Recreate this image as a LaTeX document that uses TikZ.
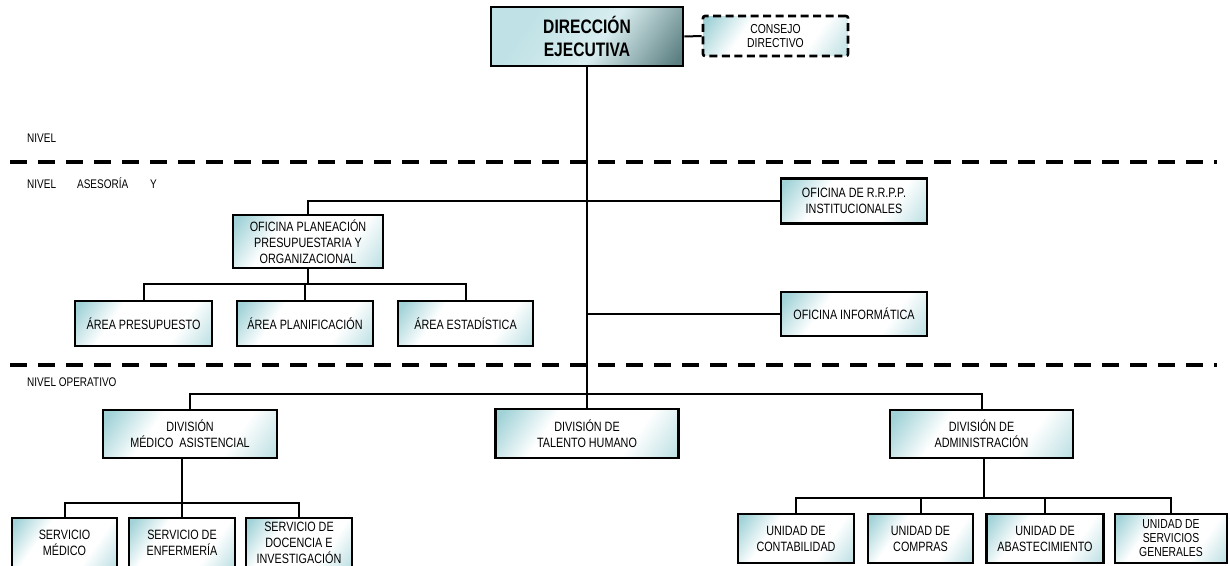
\documentclass[tikz,border=0pt]{standalone}
\usepackage{fontspec}
\setmainfont{Liberation Sans}[FakeStretch=0.8]
\usepackage{tikz}
\usetikzlibrary{calc}
\definecolor{OrgTeal}{RGB}{160,210,215}
\definecolor{OrgTealLight}{RGB}{192,226,230}
\definecolor{OrgTealDark}{RGB}{92,128,130}
\pgfdeclarehorizontalshading{orgbox}{100bp}{color(0bp)=(OrgTeal); color(18bp)=(OrgTeal);
  color(36bp)=(white); color(66bp)=(white); color(88bp)=(OrgTeal!85); color(100bp)=(OrgTeal!85)}
\pgfdeclarehorizontalshading{orgtop}{100bp}{color(0bp)=(OrgTealLight); color(30bp)=(OrgTealLight);
  color(55bp)=(OrgTealLight!60!white); color(82bp)=(OrgTealDark); color(100bp)=(OrgTealDark)}

\begin{document}
\begin{tikzpicture}[x=1pt, y=-1pt,
    ubox/.style={draw=black, line width=2.6pt, shading=orgbox, shading angle=-35, align=center,
                 inner sep=0pt, font=\fontsize{13.5}{16}\selectfont},
    conn/.style={draw=black, line width=2pt},
    lvl/.style={line width=4pt, dash pattern=on 17pt off 11pt},
    lbl/.style={anchor=west, inner sep=0pt, font=\fontsize{12.5}{14}\selectfont}
  ]
  \useasboundingbox (0,0) rectangle (1230,565);

  % level separators
  \draw[lvl] (10,162) -- (1217,162);
  \draw[lvl] (10,365) -- (1217,365);
  \node[lbl] (nv1) at (27,138) {NIVEL};
  \node[lbl] (nv2) at (27,183) {NIVEL\hspace{21pt}ASESORÍA\hspace{22pt}Y};
  \node[lbl] (nv3) at (27,382) {NIVEL OPERATIVO};

  % direccion
  \node[ubox, minimum width=192pt, minimum height=59pt, shading=orgtop,
        font=\bfseries\fontsize{19.5}{23}\selectfont] (dir) at (587,36.5) {DIRECCIÓN\\EJECUTIVA};
  \node[ubox, dash pattern=on 8pt off 4.5pt, rounded corners=2pt, minimum width=145pt,
        minimum height=40pt, font=\fontsize{13}{14.5}\selectfont] (consejo) at (775.5,36) {CONSEJO\\DIRECTIVO};

  % asesoria y apoyo
  \node[ubox, minimum width=146pt, minimum height=45pt] (rrpp) at (854,201) {OFICINA DE R.R.P.P.\\INSTITUCIONALES};
  \node[ubox, minimum width=146pt, minimum height=44pt] (info) at (854,314) {OFICINA INFORMÁTICA};
  \node[ubox, minimum width=150pt, minimum height=53pt] (planea) at (308,241.5)
        {OFICINA PLANEACIÓN\\PRESUPUESTARIA Y\\ORGANIZACIONAL};
  \node[ubox, minimum width=137pt, minimum height=45pt] (presup) at (143.5,323.5) {ÁREA PRESUPUESTO};
  \node[ubox, minimum width=136pt, minimum height=45pt] (planif) at (305,323.5) {ÁREA PLANIFICACIÓN};
  \node[ubox, minimum width=135pt, minimum height=45pt] (estad) at (465.5,323.5) {ÁREA ESTADÍSTICA};

  % nivel operativo
  \node[ubox, minimum width=174pt, minimum height=48pt] (divmed) at (190,434) {DIVISIÓN\\MÉDICO~ ASISTENCIAL};
  \node[ubox, minimum width=183pt, minimum height=49pt] (talento) at (587,433.5) {DIVISIÓN DE\\TALENTO HUMANO};
  \node[ubox, minimum width=183pt, minimum height=48pt] (admin) at (981.5,434) {DIVISIÓN DE\\ADMINISTRACIÓN};

  \node[ubox, minimum width=105pt, minimum height=50pt] (smed) at (64.5,543) {SERVICIO\\MÉDICO};
  \node[ubox, minimum width=106pt, minimum height=50pt] (senf) at (182,543) {SERVICIO DE\\ENFERMERÍA};
  \node[ubox, minimum width=106pt, minimum height=50pt] (sdoc) at (299,543) {SERVICIO DE\\DOCENCIA E\\INVESTIGACIÓN};

  \node[ubox, minimum width=116pt, minimum height=49pt] (ucont) at (796,538.5) {UNIDAD DE\\CONTABILIDAD};
  \node[ubox, minimum width=105pt, minimum height=49pt] (ucomp) at (920.5,538.5) {UNIDAD DE\\COMPRAS};
  \node[ubox, minimum width=117pt, minimum height=49pt] (uabas) at (1045,538.5) {UNIDAD DE\\ABASTECIMIENTO};
  \node[ubox, minimum width=112pt, minimum height=49pt, font=\fontsize{13}{14}\selectfont] (usg) at (1171,538.5)
        {UNIDAD DE\\SERVICIOS\\GENERALES};

  % connectors
  \draw[conn] (dir.east) -- (consejo.west);
  \draw[conn] (dir.south) -- (talento.north);
  \draw[conn] (planea.north) |- (rrpp.west);
  \draw[conn] (info.west) -- (info.west -| dir.south);

  \coordinate (pbus) at (308,284);
  \draw[conn] (planea.south) -- (pbus);
  \foreach \n in {presup,planif,estad}
    \draw[conn] (\n.north) |- (pbus);

  \coordinate (obus) at (587,394);
  \foreach \n in {divmed,admin}
    \draw[conn] (\n.north) |- (obus);

  \coordinate (mbus) at (182,503);
  \draw[conn] (divmed.south -| senf.north) -- (senf.north);
  \foreach \n in {smed,sdoc}
    \draw[conn] (\n.north) |- (mbus);

  \coordinate (abus) at (984,498);
  \draw[conn] (admin.south -| abus) -- (abus);
  \foreach \n in {ucont,ucomp,uabas,usg}
    \draw[conn] (\n.north) |- (abus);
\end{tikzpicture}
\end{document}
